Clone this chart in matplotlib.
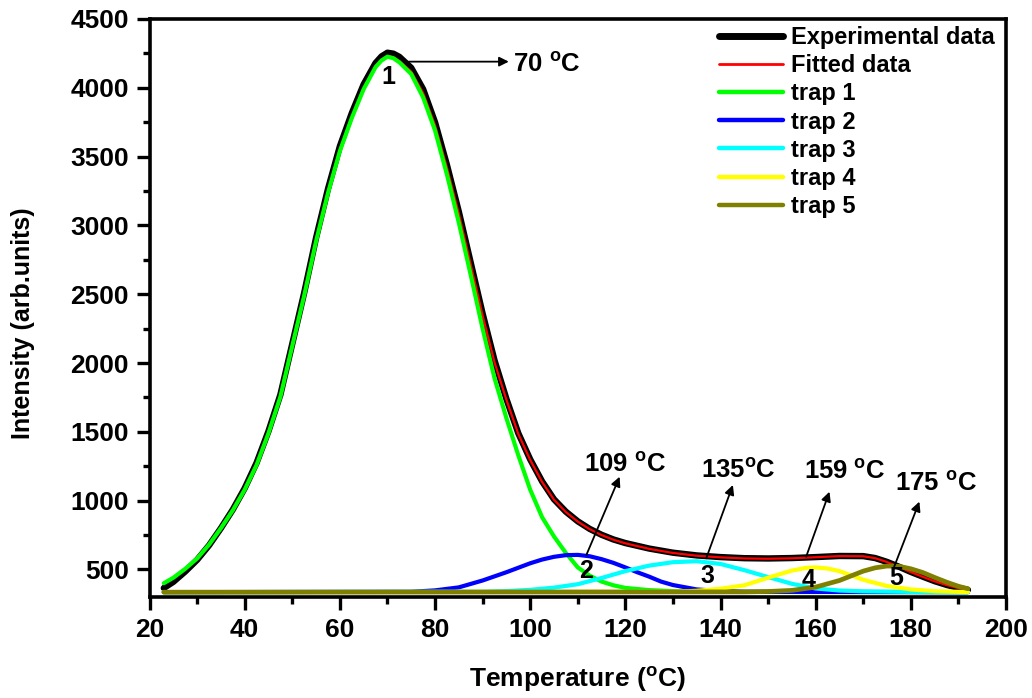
import matplotlib
matplotlib.use("Agg")
import matplotlib.pyplot as plt
from matplotlib.ticker import MultipleLocator

# ---- glow-curve data (temperature in deg C, intensity in arb. units) ----
exp_temp = [23, 25, 27.5, 30, 32.5, 35, 37.5, 40, 42.5, 45, 47.5, 50, 52.5, 55, 57.5,
            60, 62.5, 65, 67.5, 68.75, 70, 71.25, 72.5, 75, 77.5, 80, 82.5, 85, 87.5,
            90, 92.5, 95, 97.5, 100, 102.5, 105, 107.5, 110, 112.5, 115, 117.5, 120,
            125, 130, 135, 140, 145, 150, 155, 160, 165, 170, 172.5, 175, 177.5, 180,
            182.5, 185, 187.5, 190, 192]
exp_int = [365, 410, 485, 570, 675, 800, 935, 1090, 1275, 1505, 1770, 2140, 2510, 2910,
           3265, 3575, 3815, 4025, 4180, 4228, 4255, 4248, 4225, 4145, 3990, 3750, 3440,
           3100, 2730, 2360, 2020, 1740, 1490, 1300, 1140, 1010, 920, 850, 795, 752, 718,
           692, 652, 622, 602, 590, 582, 580, 583, 590, 598, 597, 583, 555, 520, 482,
           448, 415, 388, 366, 352]

fit_int = [400, 440, 505, 580, 680, 800, 930, 1080, 1260, 1490, 1755, 2125, 2490, 2885,
           3235, 3540, 3782, 3995, 4158, 4205, 4232, 4222, 4195, 4118, 3962, 3728, 3420,
           3085, 2715, 2345, 2005, 1733, 1485, 1296, 1136, 1007, 917, 848, 793, 750, 716,
           690, 650, 620, 600, 588, 580, 578, 581, 589, 597, 596, 582, 554, 519, 481,
           447, 414, 387, 365, 352]

trap1_temp = [23, 25, 27.5, 30, 32.5, 35, 37.5, 40, 42.5, 45, 47.5, 50, 52.5, 55, 57.5,
              60, 62.5, 65, 67.5, 68.75, 70, 71.25, 72.5, 75, 77.5, 80, 82.5, 85, 87.5,
              90, 92.5, 95, 97.5, 100, 102.5, 105, 107.5, 110, 112.5, 115, 117.5, 120,
              125, 130, 140, 192]
trap1_int = [400, 440, 505, 580, 680, 800, 930, 1080, 1260, 1490, 1755, 2125, 2490, 2885,
             3235, 3540, 3780, 3990, 4150, 4198, 4226, 4215, 4185, 4100, 3930, 3690, 3370,
             3020, 2640, 2250, 1890, 1600, 1330, 1080, 880, 740, 620, 515, 455, 412, 385,
             366, 350, 343, 337, 335]

trap2_temp = [23, 75, 80, 85, 90, 95, 100, 102.5, 105, 107.5, 110, 112.5, 115, 117.5,
              120, 122.5, 125, 127.5, 130, 135, 140, 145, 192]
trap2_int = [335, 338, 348, 370, 420, 480, 545, 572, 592, 604, 606, 596, 575, 548,
             515, 480, 448, 412, 387, 355, 343, 338, 335]

trap3_temp = [23, 90, 95, 100, 105, 110, 115, 120, 125, 130, 135, 140, 145, 150, 155,
              160, 165, 170, 180, 192]
trap3_int = [335, 338, 343, 352, 368, 393, 438, 488, 528, 553, 560, 540, 495, 445, 396,
             362, 347, 341, 337, 335]

trap4_temp = [23, 130, 135, 140, 145, 150, 155, 158, 160, 162.5, 165, 170, 175, 180,
              185, 192]
trap4_int = [335, 338, 345, 360, 385, 440, 492, 512, 515, 507, 488, 425, 380, 355,
             342, 336]

trap5_temp = [23, 145, 150, 155, 160, 165, 170, 172.5, 175, 177.5, 180, 182.5, 185,
              187.5, 190, 192]
trap5_int = [335, 337, 340, 348, 372, 420, 488, 512, 525, 523, 505, 478, 442, 408,
             378, 360]

peak_temps = [70, 109, 135, 159, 175]
peak_ids = ["1", "2", "3", "4", "5"]

# ---- styling ----
plt.rcParams["font.family"] = ["Liberation Sans", "DejaVu Sans"]
plt.rcParams["font.weight"] = "bold"
plt.rcParams["mathtext.fontset"] = "custom"
plt.rcParams["mathtext.rm"] = "Liberation Sans:bold"
plt.rcParams["mathtext.it"] = "Liberation Sans:bold"
plt.rcParams["mathtext.bf"] = "Liberation Sans:bold"

fig = plt.figure(figsize=(10.32, 6.98), dpi=100)
ax = fig.add_axes([0.1449, 0.1447, 0.8299, 0.8281])

line_kw = dict(solid_joinstyle="round", solid_capstyle="round")
ax.plot(exp_temp, exp_int, color="black", lw=4.6, label="Experimental data", **line_kw)
ax.plot(exp_temp, fit_int, color="red", lw=1.6, label="Fitted data", **line_kw)
ax.plot(trap1_temp, trap1_int, color="#00ff00", lw=3.0, label="trap 1", **line_kw)
ax.plot(trap2_temp, trap2_int, color="#0000ff", lw=3.0, label="trap 2", **line_kw)
ax.plot(trap3_temp, trap3_int, color="#00ffff", lw=3.0, label="trap 3", **line_kw)
ax.plot(trap4_temp, trap4_int, color="#ffff00", lw=3.0, label="trap 4", **line_kw)
ax.plot(trap5_temp, trap5_int, color="#808000", lw=3.4, label="trap 5", **line_kw)

ax.set_xlim(20, 200)
ax.set_ylim(300, 4500)
ax.xaxis.set_major_locator(MultipleLocator(20))
ax.xaxis.set_minor_locator(MultipleLocator(10))
ax.yaxis.set_major_locator(MultipleLocator(500))
ax.yaxis.set_minor_locator(MultipleLocator(250))
ax.set_yticks([500, 1000, 1500, 2000, 2500, 3000, 3500, 4000, 4500])

for s in ax.spines.values():
    s.set_linewidth(2.6)
ax.tick_params(which="major", direction="out", length=9.5, width=2.4, labelsize=19,
               pad=5.5)
ax.tick_params(which="minor", direction="out", length=5, width=2.4)
for lab in ax.get_xticklabels() + ax.get_yticklabels():
    lab.set_fontweight("bold")

fig.text(0.559, 0.026, r"Temperature ($^{o}$C)", ha="center", va="center",
         fontsize=19, fontweight="bold")
fig.text(0.022, 0.537, "Intensity (arb.units)", ha="center", va="center",
         rotation=90, fontsize=18, fontweight="bold")

# peak numbers
num_pos = [(70.1, 4075), (111.8, 489), (137.3, 453), (158.5, 424), (177.0, 438)]
for (x, y), t in zip(num_pos, peak_ids):
    ax.text(x, y, t, ha="center", va="center", fontsize=18, fontweight="bold")

arrow_kw = dict(arrowstyle="-|>", color="black", lw=1.3, mutation_scale=14,
                shrinkA=0, shrinkB=0)

# first peak: horizontal arrow
ax.annotate("", xy=(95.5, 4190), xytext=(74.5, 4190), arrowprops=arrow_kw)
ax.text(96.3, 4170, r"%d $^{o}$C" % peak_temps[0], ha="left", va="center",
        fontsize=18.5, fontweight="bold")

# remaining peaks: slanted arrows to labels
arrows = [((111.8, 605), (118.8, 1174)),
          ((137.0, 581), (142.6, 1114)),
          ((158.0, 593), (162.9, 1065)),
          ((176.5, 520), (181.8, 993))]
label_pos = [(119.9, 1259), (143.8, 1216), (166.2, 1208), (185.3, 1121)]
label_fmt = [r"%d $^{o}$C", r"%d$^{o}$C", r"%d $^{o}$C", r"%d $^{o}$C"]
for (start, tip), (lx, ly), fmt, tp in zip(arrows, label_pos, label_fmt, peak_temps[1:]):
    ax.annotate("", xy=tip, xytext=start, arrowprops=arrow_kw)
    ax.text(lx, ly, fmt % tp, ha="center", va="center", fontsize=18.5,
            fontweight="bold")

leg = ax.legend(loc="upper left", bbox_to_anchor=(0.665, 0.988), frameon=False,
                fontsize=17, handlelength=2.7, handletextpad=0.35,
                labelspacing=0.22, borderpad=0, borderaxespad=0)
for t in leg.get_texts():
    t.set_fontweight("bold")
for h, w in zip(leg.get_lines(), [5, 2, 3.2, 3.2, 3.2, 3.2, 3.2]):
    h.set_linewidth(w)

fig.savefig("out.png", dpi=100)
